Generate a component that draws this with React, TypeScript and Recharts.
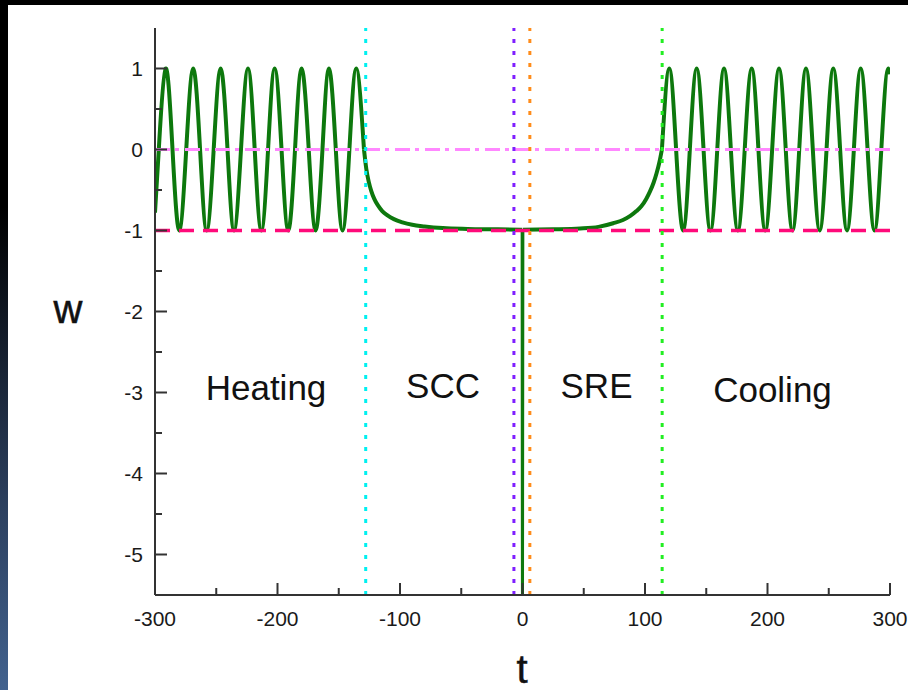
import { Line, LineChart, ReferenceLine, XAxis, YAxis } from "recharts";

const FONT = "'Liberation Sans', Arial, Helvetica, sans-serif";
const AXIS = "#333";

const X_TICKS = [-300, -250, -200, -150, -100, -50, 0, 50, 100, 150, 200, 250, 300];
const Y_TICKS = [-5, -4.5, -4, -3.5, -3, -2.5, -2, -1.5, -1, -0.5, 0, 0.5, 1];

// w(t) (peaks, troughs and crossings)
const heatingT = [
  -300, -296.9, -291.3, -285.7, -280.2, -274.5, -268.8, -263.2, -257.8, -252.1, -246.4,
  -240.8, -235.5, -229.8, -224.1, -218.6, -213.2, -207.7, -202.3, -196.7, -191.2, -185.7,
  -180.3, -174.5, -168.9, -163.3, -158, -152.4, -146.9, -141.3, -135.7, -129.4,
];
const heatingW = [
  -0.78, 0, 1, 0, -1, 0, 1, 0, -1, 0, 1,
  0, -1, 0, 1, 0, -1, 0, 1, 0, -1, 0,
  1, 0, -1, 0, 1, 0, -1, 0, 1, 0,
];

const sccT = [-129.4, -127.5, -125.5, -123.5, -121, -118, -114.5, -110.5, -105, -98, -90, -80, -65, -45, -20, -0.3];
const sccW = [0, -0.24, -0.4, -0.51, -0.61, -0.69, -0.76, -0.81, -0.86, -0.9, -0.93, -0.95, -0.97, -0.98, -0.985, -0.99];

const spikeT = [-0.3, 0, 0.3];
const spikeW = [-0.99, -5.6, -0.99];

const sreT = [0.3, 25, 47, 62, 74, 82, 88, 93, 97, 101, 104, 107, 109.5, 111.7, 113.8];
const sreW = [-0.99, -0.985, -0.975, -0.955, -0.91, -0.87, -0.82, -0.76, -0.7, -0.61, -0.52, -0.41, -0.29, -0.16, 0];

const coolingT = [
  113.8, 119.8, 125.4, 131.1, 136.6, 142.2, 147.8, 153.4, 159, 164.5, 170.1, 175.8,
  181.4, 187.1, 192.6, 198.2, 203.8, 209.4, 214.9, 220.4, 225.9, 231.4, 237, 242.6,
  248.2, 253.7, 259.3, 264.9, 270.5, 276.1, 281.7, 287.3, 292.9,
];
const coolingW = [
  0, 1, 0, -1, 0, 1, 0, -1, 0, 1, 0, -1,
  0, 1, 0, -1, 0, 1, 0, -1, 0, 1, 0, -1,
  0, 1, 0, -1, 0, 1, 0, -1, 0,
];

const tailT = [292.9, 298.6, 300];
const tailW = [0, 1, 0.93];

// phase boundaries (dotted verticals)
const tHeatEnd = -128;
const tSccEnd = -7;
const tSreStart = 6;
const tCoolStart = 114;

const phases = ["Heating", "SCC", "SRE", "Cooling"];

const pts = (ts: number[], ws: number[]) => ts.map((t, i) => ({ t, w: ws[i] }));

function BottomTick({ x, y, payload }: any) {
  const v = payload.value;
  const major = v % 100 === 0;
  return (
    <g>
      <line x1={x} x2={x} y1={y} y2={y - (major ? 12 : 7)} stroke={AXIS} strokeWidth={2} />
      {major && (
        <text x={x} y={y + 31} textAnchor="middle" fontSize={21} fontFamily={FONT} fill="#1a1a1a">
          {v}
        </text>
      )}
    </g>
  );
}

function TopTick({ x, y, payload }: any) {
  const major = payload.value % 100 === 0;
  return <line x1={x} x2={x} y1={y} y2={y + (major ? 12 : 7)} stroke={AXIS} strokeWidth={2} />;
}

function LeftTick({ x, y, payload }: any) {
  const v = payload.value;
  const major = Number.isInteger(v);
  return (
    <g>
      <line x1={x} x2={x + (major ? 12 : 7)} y1={y} y2={y} stroke={AXIS} strokeWidth={2} />
      {major && (
        <text x={x - 12} y={y + 7.5} textAnchor="end" fontSize={21} fontFamily={FONT} fill="#1a1a1a">
          {v}
        </text>
      )}
    </g>
  );
}

function RightTick({ x, y, payload }: any) {
  const major = Number.isInteger(payload.value);
  return <line x1={x} x2={x - (major ? 12 : 7)} y1={y} y2={y} stroke={AXIS} strokeWidth={2} />;
}

export default function App() {
  const curve = { dataKey: "w", stroke: "#0d780d", strokeWidth: 4, dot: false, activeDot: false, isAnimationActive: false } as const;
  const dotted = { strokeWidth: 3, strokeDasharray: "4 8" };
  return (
    <div style={{ position: "fixed", left: 0, top: 0, width: 908, height: 690, background: "#000", overflow: "hidden" }}>
      <div
        style={{
          position: "absolute", left: 0, top: 0, width: 8, height: 690,
          background: "linear-gradient(to bottom, #000 0%, #000 30%, #2b3e5c 72%, #42628e 100%)",
        }}
      />
      <div style={{ position: "absolute", left: 8, top: 5, width: 900, height: 685, background: "#fff" }} />
      <div style={{ position: "absolute", left: 0, top: 0 }}>
        <LineChart width={908} height={690} margin={{ top: 28, right: 18, bottom: 35, left: 95 }}>
          <XAxis
            dataKey="t" type="number" domain={[-300, 300]} allowDataOverflow ticks={X_TICKS} interval={0}
            tickSize={0} tickMargin={0} height={60} axisLine={{ stroke: AXIS, strokeWidth: 2 }} tick={BottomTick}
          />
          <XAxis
            xAxisId="top" orientation="top" dataKey="t" type="number" domain={[-300, 300]} allowDataOverflow
            ticks={X_TICKS} interval={0} tickSize={0} tickMargin={0} height={0}
            axisLine={{ stroke: AXIS, strokeWidth: 2 }} tick={TopTick}
          />
          <YAxis
            type="number" domain={[-5.5, 1.5]} allowDataOverflow ticks={Y_TICKS} interval={0}
            tickSize={0} tickMargin={0} width={60} axisLine={{ stroke: AXIS, strokeWidth: 2 }} tick={LeftTick}
          />
          <YAxis
            yAxisId="right" orientation="right" type="number" domain={[-5.5, 1.5]} allowDataOverflow
            ticks={Y_TICKS} interval={0} tickSize={0} tickMargin={0} width={0}
            axisLine={{ stroke: AXIS, strokeWidth: 2 }} tick={RightTick}
          />
          <Line {...curve} type="natural" data={pts(heatingT, heatingW)} />
          <Line {...curve} type="monotone" data={pts(sccT, sccW)} />
          <Line {...curve} type="monotone" strokeWidth={3} data={pts(spikeT, spikeW)} />
          <Line {...curve} type="monotone" data={pts(sreT, sreW)} />
          <Line {...curve} type="natural" data={pts(coolingT, coolingW)} />
          <Line {...curve} type="monotone" data={pts(tailT, tailW)} />
          <ReferenceLine y={0} stroke="#ff88ff" strokeWidth={3} strokeDasharray="15 5 4 6" />
          <ReferenceLine y={-1} stroke="#ff0a7a" strokeWidth={3.5} strokeDasharray="15 9" />
          <ReferenceLine x={tHeatEnd} stroke="#00f0f0" {...dotted} />
          <ReferenceLine x={tSccEnd} stroke="#7f1fff" {...dotted} />
          <ReferenceLine x={tSreStart} stroke="#ff8c1a" {...dotted} />
          <ReferenceLine x={tCoolStart} stroke="#22ee22" {...dotted} />
        </LineChart>
      </div>
      <svg width={908} height={690} style={{ position: "absolute", left: 0, top: 0, pointerEvents: "none" }}>
        <g fontFamily={FONT} fill="#111" textAnchor="middle">
          <text x={68} y={323} fontSize={40} stroke="#111" strokeWidth={0.5}>w</text>
          <text x={522} y={683} fontSize={40} stroke="#111" strokeWidth={0.5}>t</text>
          <text x={266} y={400} fontSize={35}>{phases[0]}</text>
          <text x={443} y={398} fontSize={35}>{phases[1]}</text>
          <text x={596.5} y={398} fontSize={35}>{phases[2]}</text>
          <text x={772.5} y={401.5} fontSize={35}>{phases[3]}</text>
        </g>
      </svg>
    </div>
  );
}
